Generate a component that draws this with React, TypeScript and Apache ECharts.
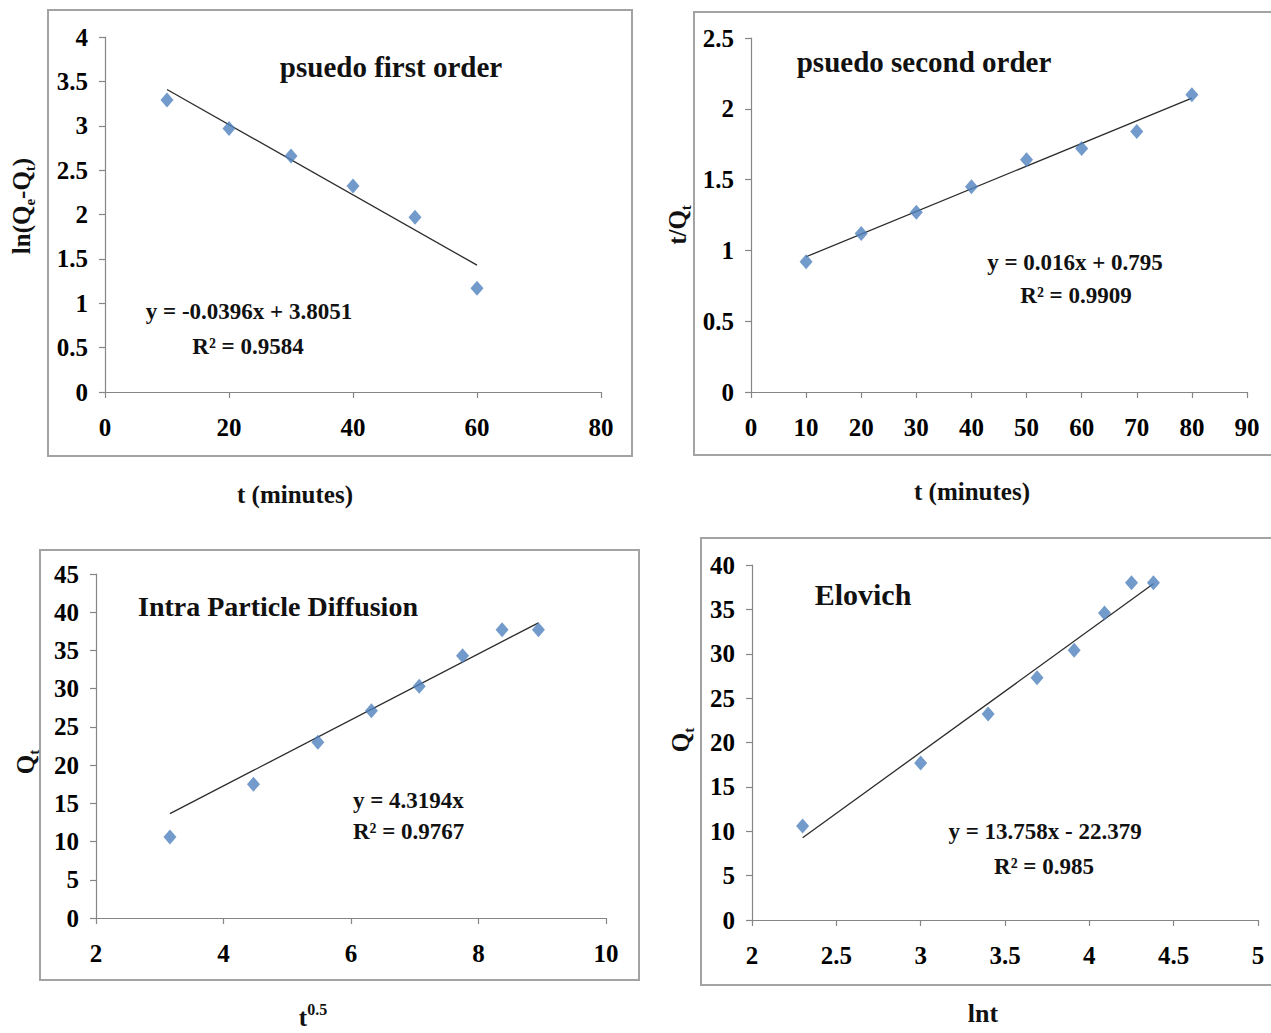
import React, { useEffect, useRef } from "react";
import * as echarts from "echarts";

// ---- data ----
const t1 = [10, 20, 30, 40, 50, 60];
const lnQ = [3.29, 2.97, 2.66, 2.32, 1.97, 1.17];

const t2 = [10, 20, 30, 40, 50, 60, 70, 80];
const tOverQ = [0.92, 1.12, 1.27, 1.45, 1.64, 1.72, 1.84, 2.1];

const sqrtT = [3.16, 4.47, 5.48, 6.32, 7.07, 7.75, 8.37, 8.94];
const qtIpd = [10.6, 17.5, 23.0, 27.1, 30.3, 34.3, 37.7, 37.7];

const lnT = [2.3, 3.0, 3.4, 3.69, 3.91, 4.09, 4.25, 4.38];
const qtElo = [10.6, 17.7, 23.2, 27.3, 30.4, 34.6, 38.0, 38.0];

// trend lines (slope, intercept) as printed on the chart
const slopes = [-0.0396, 0.016, 4.3194, 13.758];
const intercepts = [3.8051, 0.795, 0, -22.379];

const titles = ["psuedo first order", "psuedo second order", "Intra Particle Diffusion", "Elovich"];
const eqLines = [
  ["y = -0.0396x + 3.8051", "R² = 0.9584"],
  ["y = 0.016x + 0.795", "R² = 0.9909"],
  ["y = 4.3194x", "R² = 0.9767"],
  ["y = 13.758x - 22.379", "R² = 0.985"],
];

const xRanges = [
  { min: 0, max: 80, interval: 20 },
  { min: 0, max: 90, interval: 10 },
  { min: 2, max: 10, interval: 2 },
  { min: 2, max: 5, interval: 0.5 },
];
const yRanges = [
  { min: 0, max: 4, interval: 0.5 },
  { min: 0, max: 2.5, interval: 0.5 },
  { min: 0, max: 45, interval: 5 },
  { min: 0, max: 40, interval: 5 },
];

const FONT = '"Liberation Serif", "Times New Roman", serif';
const MARKER = "#4f81bd";
const AXIS = "#868686";

export default function App() {
  const ref = useRef<HTMLDivElement>(null);
  useEffect(() => {
    if (!ref.current) return;
    const chart = echarts.init(ref.current, undefined, { renderer: "svg" });

    const xs = [t1, t2, sqrtT, lnT];
    const ys = [lnQ, tOverQ, qtIpd, qtElo];

    const grids = [
      { left: 105, top: 37, width: 496, height: 355 },
      { left: 751, top: 38, width: 496, height: 354 },
      { left: 96, top: 574, width: 510, height: 344 },
      { left: 752, top: 565, width: 506, height: 355 },
    ];

    const axisCommon = {
      type: "value",
      splitLine: { show: false },
      axisLine: { show: true, lineStyle: { color: AXIS, width: 1.2 } },
      axisTick: { show: true, length: 6, lineStyle: { color: AXIS, width: 1.2 } },
    };

    const xAxis = xRanges.map((r, i) => ({
      ...axisCommon,
      gridIndex: i,
      ...r,
      axisLabel: { fontSize: 25, fontWeight: "bold", fontFamily: FONT, color: "#000", margin: 23 },
    }));
    const yAxis = yRanges.map((r, i) => ({
      ...axisCommon,
      gridIndex: i,
      ...r,
      axisLabel: { fontSize: 25, fontWeight: "bold", fontFamily: FONT, color: "#000", margin: 17 },
    }));

    const series: any[] = [];
    xs.forEach((xv, i) => {
      series.push({
        type: "scatter",
        xAxisIndex: i,
        yAxisIndex: i,
        symbol: "diamond",
        symbolSize: [13, 15],
        itemStyle: { color: MARKER },
        data: xv.map((x, k) => [x, ys[i][k]]),
        z: 3,
      });
      const x0 = xv[0];
      const x1 = xv[xv.length - 1];
      series.push({
        type: "line",
        xAxisIndex: i,
        yAxisIndex: i,
        symbol: "none",
        lineStyle: { color: "#2b2b2b", width: 1.3 },
        data: [
          [x0, slopes[i] * x0 + intercepts[i]],
          [x1, slopes[i] * x1 + intercepts[i]],
        ],
        z: 2,
      });
    });

    const box = (x: number, y: number, w: number, h: number) => ({
      type: "rect",
      shape: { x, y, width: w, height: h },
      style: { fill: "none", stroke: "#a3a3a3", lineWidth: 2 },
      z: 0,
    });

    const txt = (x: number, y: number, text: string, size: number, align = "center") => ({
      type: "text",
      x,
      y,
      style: {
        text,
        fill: "#111",
        font: `bold ${size}px ${FONT}`,
        align,
        verticalAlign: "middle",
      },
      z: 5,
    });

    const subRich = {
      s: {
        fontSize: 15,
        fontWeight: "bold",
        fontFamily: FONT,
        verticalAlign: "bottom",
        lineHeight: 15,
      },
      m: {
        fontSize: 25,
        fontWeight: "bold",
        fontFamily: FONT,
        verticalAlign: "middle",
        lineHeight: 32,
      },
      p: {
        fontSize: 16,
        fontWeight: "bold",
        fontFamily: FONT,
        verticalAlign: "top",
        lineHeight: 16,
      },
    };

    const rotTxt = (x: number, y: number, text: string) => ({
      type: "text",
      x,
      y,
      rotation: Math.PI / 2,
      style: {
        text,
        fill: "#111",
        align: "center",
        verticalAlign: "middle",
        rich: subRich,
      },
      z: 5,
    });

    const graphic: any[] = [
      box(48, 10, 584, 446),
      box(694, 12, 620, 443),
      box(40, 550, 599, 430),
      box(701, 538, 620, 447),
      // panel titles
      txt(391, 67, titles[0], 29),
      txt(924, 62, titles[1], 29),
      txt(278, 606, titles[2], 28),
      txt(863, 594, titles[3], 30),
      // equations
      txt(249, 311, eqLines[0][0], 23),
      txt(248, 346, eqLines[0][1], 23),
      txt(1075, 262, eqLines[1][0], 23),
      txt(1076, 295, eqLines[1][1], 23),
      txt(353, 800, eqLines[2][0], 23, "left"),
      txt(353, 831, eqLines[2][1], 23, "left"),
      txt(1045, 831, eqLines[3][0], 23),
      txt(1044, 866, eqLines[3][1], 23),
      // x axis titles
      txt(295, 494, "t (minutes)", 25),
      txt(972, 491, "t (minutes)", 25),
      {
        type: "text",
        x: 313,
        y: 1017,
        style: {
          text: "{m|t}{p|0.5}",
          fill: "#111",
          align: "center",
          verticalAlign: "middle",
          rich: subRich,
        },
        z: 5,
      },
      txt(983, 1013, "lnt", 26),
      // y axis titles
      rotTxt(21, 206, "{m|ln(Q}{s|e}{m|-Q}{s|t}{m|)}"),
      rotTxt(677, 225, "{m|t/Q}{s|t}"),
      rotTxt(25, 762, "{m|Q}{s|t}"),
      rotTxt(680, 740, "{m|Q}{s|t}"),
    ];

    chart.setOption({
      animation: false,
      backgroundColor: "#ffffff",
      grid: grids.map((g) => ({ ...g, containLabel: false })),
      xAxis,
      yAxis,
      series,
      graphic,
    });

    return () => chart.dispose();
  }, []);

  return (
    <div
      ref={ref}
      style={{ position: "fixed", left: 0, top: 0, width: 1271, height: 1033, background: "#fff" }}
    />
  );
}
